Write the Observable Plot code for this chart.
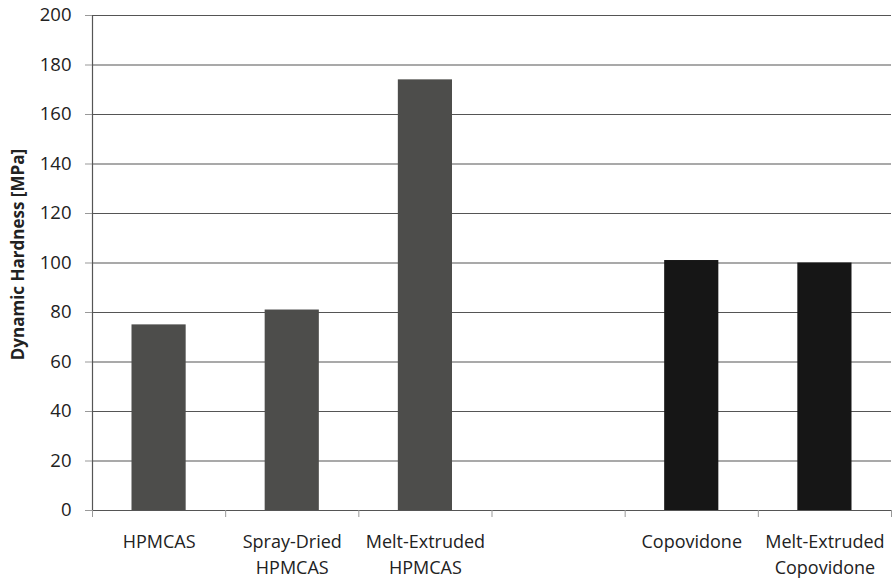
<!DOCTYPE html>
<html>
<head>
<meta charset="utf-8">
<script src="https://cdn.jsdelivr.net/npm/d3@7"></script>
<script src="https://cdn.jsdelivr.net/npm/@observablehq/plot@0.6"></script>
<style>
  html, body { margin: 0; padding: 0; background: #fff; }
  svg { display: block; }
</style>
</head>
<body>
<div id="chart"></div>
<script>
const categories = ["HPMCAS", "Spray-Dried\nHPMCAS", "Melt-Extruded\nHPMCAS", "", "Copovidone", "Melt-Extruded\nCopovidone"];
const hardness = [75, 81, 174, null, 101, 100];
const polymer = ["HPMCAS", "HPMCAS", "HPMCAS", "", "Copovidone", "Copovidone"];
const yTicks = [0, 20, 40, 60, 80, 100, 120, 140, 160, 180, 200];
const slotEdges = [0, 1, 2, 3, 4, 5, 6];
const yLabel = "Dynamic Hardness [MPa]";

const rows = categories.map((c, i) => ({slot: i, label: c, value: hardness[i], group: polymer[i]}));
const bars = rows.filter(d => d.value != null);

const chart = Plot.plot({
  width: 893,
  height: 581,
  marginLeft: 92,
  marginRight: 2,
  marginTop: 15,
  marginBottom: 71,
  style: {fontFamily: "'Open Sans', sans-serif", fontSize: "18px", color: "#222", background: "#fff"},
  x: {type: "linear", domain: [0, 6], axis: null},
  y: {domain: [0, 200], axis: null},
  color: {domain: ["HPMCAS", "Copovidone"], range: ["#4d4d4b", "#161616"]},
  marks: [
    Plot.ruleY(yTicks, {stroke: "#555", strokeWidth: 1.2}),
    Plot.ruleX([0], {y1: 0, y2: 200, stroke: "#555", strokeWidth: 1.2}),
    Plot.axisY({ticks: yTicks, tickSize: 7, tickPadding: 14, stroke: "#999", label: null, fontSize: 18.5}),
    Plot.axisX({ticks: slotEdges, tickSize: 7, tickFormat: () => "", stroke: "#999", label: null}),
    Plot.rectY(bars, {x1: "slot", x2: d => d.slot + 1, y: "value", fill: "group", insetLeft: 39.5, insetRight: 39.5}),
    Plot.text(rows, {x: d => d.slot + 0.5, y: () => 0, text: "label", dy: 19, lineAnchor: "top", lineHeight: 1.45, fontSize: 18, fill: "#222"}),
    Plot.text([yLabel], {x: 0, y: 103.4, text: d => d, rotate: -90, dx: -74, dy: 0, fontWeight: "bold", fontSize: 17, fill: "#222"})
  ]
});
document.getElementById("chart").append(chart);
</script>
</body>
</html>
